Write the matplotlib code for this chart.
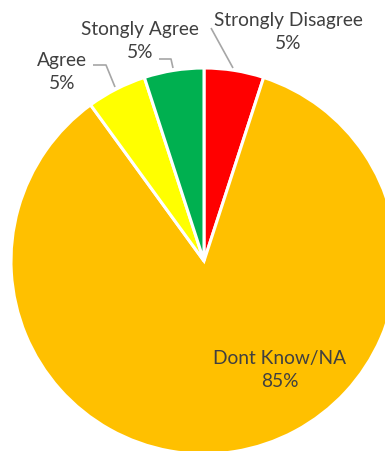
import matplotlib
matplotlib.use("Agg")
import matplotlib.pyplot as plt

categories = ["Strongly Disagree", "Dont Know/NA", "Agree", "Stongly Agree"]
values = [5, 85, 5, 5]
colors = ["#FF0000", "#FFC000", "#FFFF00", "#00B050"]

W, H = 385, 451
fig = plt.figure(figsize=(W / 100, H / 100), dpi=100)
ax = fig.add_axes([0, 0, 1, 1])

cx, cy, r = 204, H - 261, 193
ax.pie(values, colors=colors, startangle=90, counterclock=False,
       center=(cx, cy), radius=r,
       wedgeprops=dict(edgecolor="white", linewidth=2.2))
ax.set_xlim(0, W)
ax.set_ylim(0, H)
ax.set_aspect("equal", adjustable="box")
ax.axis("off")

font = dict(family=["Lato", "DejaVu Sans"], fontsize=13.8, color="#404040",
            ha="center", va="center", linespacing=1.45)

def fy(y):
    return H - y

# label text positions (pixel coordinates from top-left)
label_pos = {
    "Strongly Disagree": (288, 32),
    "Dont Know/NA": (280, 370),
    "Agree": (62, 72),
    "Stongly Agree": (140, 41),
}
for cat, v in zip(categories, values):
    x, y = label_pos[cat]
    ax.text(x, fy(y), f"{cat}\n{v}%", **font)

# leader lines
line_kw = dict(color="#A6A6A6", linewidth=1.2, solid_capstyle="butt")
leaders = [
    [(211, 28), (233, 68)],
    [(159, 59), (171, 59), (173, 68)],
    [(93, 65), (106, 65), (115, 87)],
]
for pts in leaders:
    xs = [p[0] for p in pts]
    ys = [fy(p[1]) for p in pts]
    ax.plot(xs, ys, **line_kw)

fig.savefig("out.png", dpi=100)
